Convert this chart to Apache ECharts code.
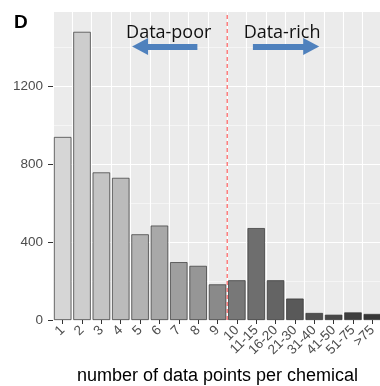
<!DOCTYPE html>
<html>
<head>
    <meta charset="utf-8">
    <title>data points per chemical</title>
    <script src="https://cdn.jsdelivr.net/npm/echarts@6/dist/echarts.min.js"></script>
</head>
<body style="margin:0">
<div id="main" style="width: 380px;height:386px;"></div>
<script>
// categories and counts
var categories = ['1','2','3','4','5','6','7','8','9','10','11-15','16-20','21-30','31-40','41-50','51-75','>75'];
var counts = [940, 1480, 758, 730, 440, 485, 297, 278, 183, 204, 472, 204, 110, 36, 27, 39, 31];
// grey ramp of the fills, light to dark
var fills = ['#d6d6d6','#cdcdcd','#c4c4c4','#bbbbbb','#b2b2b2','#a8a8a8','#9f9f9f','#969696','#8a8a8a',
             '#787878','#6e6e6e','#646464','#595959','#505050','#474747','#3e3e3e','#363636'];
var yTicks = [0, 400, 800, 1200];
var yMax = 1582;

var cutoff = 9.5;   // between "9" and "10"

var option = {
    animation: false,
    title: {
        text: 'D', left: 9, top: 8,
        textStyle: { fontFamily: 'Liberation Sans', fontWeight: 'bold', fontSize: 19, color: '#000' }
    },
    grid: {
        left: 53, right: -2, top: 12, bottom: 66,
        containLabel: false, outerBoundsMode: 'none',
        show: true, backgroundColor: '#ebebeb', borderWidth: 0
    },
    xAxis: [{
        type: 'category',
        data: categories,
        axisLine: { show: false },
        axisTick: { show: true, alignWithLabel: true, length: 4, lineStyle: { color: '#333' } },
        axisLabel: { rotate: 45, interval: 0, margin: 8, fontSize: 13.5, color: '#4d4d4d', fontFamily: 'Liberation Sans' },
        splitLine: { show: true, interval: 0, lineStyle: { color: '#fff', width: 1.1 } },
        name: 'number of data points per chemical',
        nameLocation: 'middle', nameGap: 47,
        nameTextStyle: { fontSize: 18, color: '#000', fontFamily: 'Liberation Sans' }
    }, {
        // hidden value axis with category i sitting at value i
        type: 'value', min: 0.5, max: 17.5, show: false
    }],
    yAxis: {
        type: 'value', min: 0, max: yMax, interval: 400,
        axisLine: { show: false },
        axisTick: { show: true, length: 5, customValues: yTicks, lineStyle: { color: '#333' } },
        axisLabel: {
            fontSize: 13.5, color: '#4d4d4d', margin: 10, fontFamily: 'Liberation Sans',
            customValues: yTicks,
            formatter: function (v) { return String(v); }
        },
        splitLine: { lineStyle: { color: '#fff', width: 1.1 } },
        minorTick: { show: false, splitNumber: 2 },
        minorSplitLine: { show: true, lineStyle: { color: '#f8f8f8', width: 0.8 } }
    },
    series: [{
        type: 'bar',
        barCategoryGap: '10%',
        data: counts.map(function (v, i) {
            return { value: v, itemStyle: { color: fills[i] } };
        }),
        itemStyle: { borderColor: '#333', borderWidth: 0.7 }
    }, {
        // dashed cutoff line
        type: 'line',
        xAxisIndex: 1,
        silent: true,
        z: 10,
        symbol: 'none',
        data: [[cutoff, 0], [cutoff, yMax]],
        lineStyle: { color: '#ff4040', type: [4, 3], width: 1 }
    }, {
        type: 'scatter',
        xAxisIndex: 1,
        data: [],
        silent: true,
        markLine: {
            silent: true, z: 10,
            symbolSize: [17, 16],
            lineStyle: { color: '#4f81bd', width: 6, type: 'solid' },
            label: {
                show: true, position: 'middle', distance: 5,
                fontSize: 18, color: '#111', fontFamily: 'Open Sans',
                formatter: function (p) { return p.name; }
            },
            data: [
                [{ coord: [5.0, 1405], symbol: 'triangle', name: 'Data-poor' }, { coord: [7.96, 1405], symbol: 'none' }],
                [{ coord: [10.83, 1405], symbol: 'none', name: 'Data-rich' }, { coord: [13.84, 1405], symbol: 'triangle' }]
            ]
        }
    }]
};

var myChart = echarts.init(document.getElementById('main'));
myChart.setOption(option);
</script>
</body>
</html>
